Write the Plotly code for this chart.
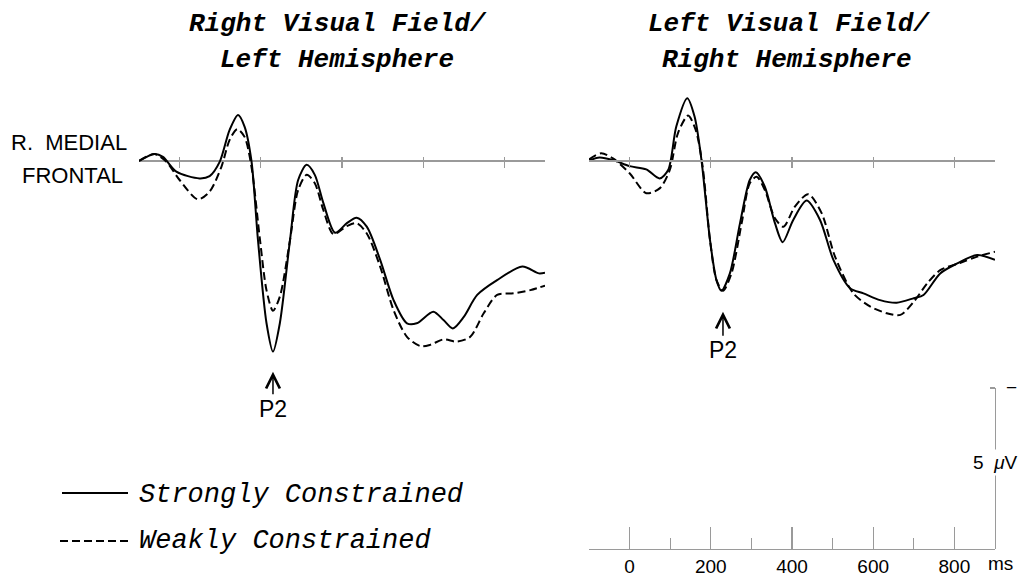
import plotly.graph_objects as go

# ---------------- data (time in ms, amplitude in microvolts, negative up) -------------
t_left_strong = [-100, -62, -41, -8, 49, 74, 99, 123, 144, 160, 177, 193, 214, 230, 247, 272, 292,
                 313, 333, 354, 383, 412, 436, 461, 494, 527, 560, 584, 625, 650, 673, 700, 733,
                 782, 844, 885, 900]
v_left_strong = [0.00, -0.22, -0.13, 0.33, 0.54, 0.47, 0.02, -0.96, -1.43, -1.07, 0.00, 2.45, 5.03,
                 5.92, 5.03, 2.45, 0.59, 0.12, 0.43, 1.30, 2.23, 1.93, 1.76, 2.04, 3.07, 4.32, 5.04,
                 5.04, 4.68, 4.94, 5.20, 4.84, 4.16, 3.70, 3.28, 3.49, 3.47]

t_left_weak = [-100, -62, -33, 0, 45, 74, 103, 123, 142, 160, 177, 198, 214, 230, 247, 272, 292,
               313, 333, 354, 379, 412, 436, 461, 494, 527, 560, 593, 617, 650, 683, 716, 749,
               782, 823, 864, 900]
v_left_weak = [0.00, -0.22, 0.02, 0.59, 1.19, 0.95, 0.18, -0.65, -0.99, -0.75, 0.18, 2.45, 4.01,
               4.65, 4.21, 2.45, 0.90, 0.43, 0.69, 1.52, 2.27, 2.02, 1.93, 2.25, 3.28, 4.63, 5.46,
               5.75, 5.71, 5.54, 5.61, 5.46, 4.73, 4.16, 4.11, 4.01, 3.87]

t_right_strong = [-100, -74, -41, 0, 41, 74, 95, 115, 142, 160, 177, 198, 214, 226, 247, 272, 296,
                  311, 333, 358, 377, 403, 436, 469, 502, 543, 576, 617, 658, 700, 724, 765, 807,
                  856, 900]
v_right_strong = [-0.02, -0.11, -0.03, 0.16, 0.26, 0.54, 0.28, -1.07, -1.95, -1.38, -0.03, 2.45,
                  3.70, 4.03, 3.49, 1.93, 0.59, 0.35, 0.80, 1.93, 2.52, 1.83, 1.23, 1.83, 3.07,
                  3.95, 4.11, 4.32, 4.40, 4.26, 4.16, 3.49, 3.18, 2.92, 3.07]

t_right_weak = [-100, -70, -41, 0, 41, 74, 99, 119, 144, 163, 180, 198, 214, 230, 251, 276, 296,
                313, 333, 358, 379, 407, 440, 473, 506, 551, 593, 634, 667, 700, 733, 765, 815,
                856, 900]
v_right_weak = [-0.05, -0.24, -0.08, 0.38, 1.00, 0.85, 0.28, -0.86, -1.41, -0.96, 0.18, 2.45,
                3.70, 4.03, 3.49, 1.93, 0.69, 0.49, 0.90, 1.78, 2.04, 1.42, 1.03, 1.62, 2.97,
                4.11, 4.52, 4.73, 4.78, 4.37, 3.80, 3.39, 3.16, 2.97, 2.82]

time_ticks = [0, 200, 400, 600, 800]
time_tick_labels = ["0", "200", "400", "600", "800"]
time_minor_ticks = [100, 300, 500, 700]
time_range = [-100, 900]

series_names = ["Strongly Constrained", "Weakly Constrained"]
panel_titles = [["Right Visual Field/", "Left Hemisphere"],
                ["Left Visual Field/", "Right Hemisphere"]]
site_label = ["R.  MEDIAL", "FRONTAL"]
peak_label = "P2"
peak_time = 230
calibration_uv = 5

# ---------------- layout helpers ----------------
W, H = 1024, 578
BASE_PX = 161          # pixel row of the 0 uV baseline
PX_PER_UV = 32.2
AXIS_PX = 549          # pixel row of the time axis
GRAY = "#9a9a9a"


def fx(p):
    return p / W


def fy(p):
    return 1 - p / H


def uv_at(p):
    return (p - BASE_PX) / PX_PER_UV


y_range = [uv_at(H), uv_at(0)]

fig = go.Figure()

solid = dict(color="black", width=2, shape="spline", smoothing=0.8)
dashed = dict(color="black", width=2, shape="spline", smoothing=0.8, dash="8px,4px")

panels = [("x", "y", t_left_strong, v_left_strong, t_left_weak, v_left_weak),
          ("x2", "y2", t_right_strong, v_right_strong, t_right_weak, v_right_weak)]
for xa, ya, ts, vs, tw, vw in panels:
    fig.add_trace(go.Scatter(x=ts, y=vs, mode="lines", line=solid, name=series_names[0],
                             xaxis=xa, yaxis=ya, showlegend=False, hoverinfo="skip"))
    fig.add_trace(go.Scatter(x=tw, y=vw, mode="lines", line=dashed, name=series_names[1],
                             xaxis=xa, yaxis=ya, showlegend=False, hoverinfo="skip"))

# empty helper traces so the time-axis and calibration-bar axes get drawn
for xa, ya in [("x3", "y2"), ("x4", "y2"), ("x2", "y3")]:
    fig.add_trace(go.Scatter(x=[None], y=[None], xaxis=xa, yaxis=ya, mode="lines",
                             showlegend=False, hoverinfo="skip"))

panel_dom = [[fx(139), fx(545)], [fx(589), fx(995)]]

base_tick_axis = dict(range=time_range, anchor="free", position=fy(156), showline=False,
                      showgrid=False, zeroline=False, ticks="outside", ticklen=11, tickwidth=1.3,
                      tickcolor=GRAY, tickvals=time_ticks, showticklabels=False, fixedrange=True)
amp_axis = dict(range=y_range, domain=[0, 1], showgrid=False, showline=False, ticks="",
                showticklabels=False, zeroline=True, zerolinecolor=GRAY, zerolinewidth=1.3,
                fixedrange=True)

fig.update_layout(
    width=W, height=H, autosize=False,
    margin=dict(l=0, r=0, t=0, b=0, pad=0),
    paper_bgcolor="white", plot_bgcolor="rgba(0,0,0,0)",
    showlegend=False,
    xaxis=dict(base_tick_axis, domain=panel_dom[0]),
    xaxis2=dict(base_tick_axis, domain=panel_dom[1]),
    yaxis=dict(amp_axis, anchor="x"),
    yaxis2=dict(amp_axis, anchor="x2"),
    # time axis: line + labels
    xaxis3=dict(range=time_range, domain=panel_dom[1], anchor="free",
                position=fy(AXIS_PX), side="bottom", showline=True, linecolor=GRAY,
                linewidth=1.3, showgrid=False, zeroline=False, ticks="",
                tickvals=time_ticks, ticktext=time_tick_labels, ticklabelstandoff=0,
                tickfont=dict(family="Liberation Sans", size=19, color="black"),
                fixedrange=True),
    # time axis: upward tick marks
    xaxis4=dict(range=time_range, domain=panel_dom[1], anchor="free",
                position=fy(AXIS_PX), side="top", showline=False, showgrid=False,
                zeroline=False, ticks="outside", ticklen=22, tickwidth=1.3, tickcolor=GRAY,
                tickvals=time_ticks, showticklabels=False,
                minor=dict(tickvals=time_minor_ticks, ticks="outside", ticklen=11,
                           tickwidth=1.3, tickcolor=GRAY),
                fixedrange=True),
    yaxis3=dict(range=[uv_at(AXIS_PX), uv_at(AXIS_PX) - calibration_uv],
                domain=[fy(AXIS_PX), fy(AXIS_PX - calibration_uv * PX_PER_UV)],
                anchor="free", position=fx(995), side="left", showline=True, linecolor=GRAY,
                linewidth=1.3, showgrid=False, zeroline=False, ticks="outside", ticklen=5,
                tickwidth=1.3, tickcolor=GRAY,
                tickvals=[uv_at(AXIS_PX) - calibration_uv], showticklabels=False,
                fixedrange=True),
)

title_font = dict(family="Liberation Mono", size=26, color="black", style="italic", weight="bold")
sans = dict(family="Liberation Sans", color="black")

ann = []
for (lines, cx) in zip(panel_titles, [(338, 337), (789, 787)]):
    for i, line in enumerate(lines):
        ann.append(dict(text=line, x=fx(cx[i]), y=fy(24 + 36 * i), xref="paper", yref="paper",
                        xanchor="center", yanchor="middle", showarrow=False, font=title_font))

ann.append(dict(text=site_label[0], x=fx(68.5), y=fy(142), xref="paper", yref="paper",
                xanchor="center", yanchor="middle", showarrow=False, font=dict(sans, size=22)))
ann.append(dict(text=site_label[1], x=fx(72.5), y=fy(175), xref="paper", yref="paper",
                xanchor="center", yanchor="middle", showarrow=False, font=dict(sans, size=22)))

# P2 markers (arrow points at the component)
for xa, ya, head_px, off in [("x", "y", 371.7, 37), ("x2", "y2", 311.7, 38.5)]:
    ann.append(dict(text=peak_label, x=peak_time, y=uv_at(head_px), xref=xa, yref=ya,
                    showarrow=True, ax=0, ay=off, arrowhead=5, arrowsize=1.8, arrowwidth=1.5,
                    arrowcolor="black", standoff=0, startstandoff=0,
                    font=dict(sans, size=23)))

# legend
leg_font = dict(family="Liberation Mono", size=27, color="black", style="italic")
ann.append(dict(text=series_names[0], x=fx(137), y=fy(495), xref="paper", yref="paper",
                xanchor="left", yanchor="middle", showarrow=False, font=leg_font))
ann.append(dict(text=series_names[1], x=fx(137), y=fy(541), xref="paper", yref="paper",
                xanchor="left", yanchor="middle", showarrow=False, font=leg_font))

# calibration / time labels
ann.append(dict(text="5  <i>μ</i>V", x=fx(995), y=fy(463), xref="paper", yref="paper",
                xanchor="center", yanchor="middle", showarrow=False, bgcolor="white",
                borderpad=2, font=dict(sans, size=19)))
ann.append(dict(text="−", x=fx(1011), y=fy(387), xref="paper", yref="paper",
                xanchor="center", yanchor="middle", showarrow=False, font=dict(sans, size=19)))
ann.append(dict(text="ms", x=fx(1000), y=fy(563), xref="paper", yref="paper",
                xanchor="center", yanchor="middle", showarrow=False, font=dict(sans, size=19)))

fig.update_layout(annotations=ann)

fig.update_layout(shapes=[
    dict(type="line", xref="paper", yref="paper", x0=fx(62), x1=fx(128), y0=fy(493), y1=fy(493),
         line=dict(color="black", width=2)),
    dict(type="line", xref="paper", yref="paper", x0=fx(60), x1=fx(128), y0=fy(541), y1=fy(541),
         line=dict(color="black", width=2, dash="8px,4px")),
])

# remove the default page margin so the figure sits at the window's top-left corner
fig.write_html("out.html", config={"displayModeBar": False, "staticPlot": True},
               post_script="document.body.style.margin='0';document.body.style.overflow='hidden';")
